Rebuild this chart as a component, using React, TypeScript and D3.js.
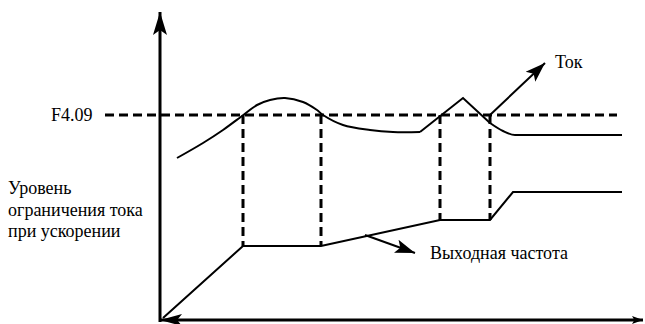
import { useEffect, useRef } from "react";
import * as d3 from "d3";

const W = 645;
const H = 324;

// current trace (t, level), split where the trace has sharp corners
const currentRise = [[17, 162], [43, 177], [63, 190], [82, 204], [97, 215], [110, 220], [125, 222], [143, 218], [157, 210], [163, 205], [183, 195], [210, 190], [233, 188], [260, 188]];
const currentSpike = [[260, 188], [303, 222], [330, 197]];
const currentSettle = [[330, 197], [343, 189], [355, 185], [370, 185], [462, 185]];
// output frequency trace
const freq = [[3, 2], [83, 74], [161, 74], [280, 100], [330, 100], [353, 128], [462, 128]];
// F4.09 limit
const limitLevel = 205;
const limitSpan = [-55, 457];
const markTimes = [83, 161, 280, 330];
// annotation arrows [from, to]
const currentPointer = [[330, 205], [385, 257]];
const freqPointer = [[205, 85], [255, 67]];
const leftLabel = ["Уровень", "ограничения тока", "при ускорении"];

const FONT = "'Liberation Serif', 'Times New Roman', serif";

const App = () => {
  const svgRef = useRef<SVGSVGElement>(null);

  useEffect(() => {
    const svg = d3.select(svgRef.current);
    svg.selectAll("*").remove();

    const x = d3.scaleLinear().domain([0, 483]).range([160, 643]);
    const y = d3.scaleLinear().domain([0, 308]).range([320, 12]);

    const defs = svg.append("defs");
    const marker = (id: string, len: number, wid: number) => {
      defs.append("marker")
        .attr("id", id)
        .attr("markerUnits", "userSpaceOnUse")
        .attr("markerWidth", len + 2)
        .attr("markerHeight", wid + 2)
        .attr("viewBox", `0 ${-wid / 2 - 1} ${len + 2} ${wid + 2}`)
        .attr("refX", len)
        .attr("refY", 0)
        .attr("orient", "auto-start-reverse")
        .append("path")
        .attr("d", `M0,${-wid / 2}L${len},0L0,${wid / 2}L${len * 0.22},0Z`)
        .attr("fill", "#000");
    };
    marker("bigHead", 23, 14);
    marker("smallHead", 11, 8);
    marker("noteHead", 20, 14);
    marker("originHead", 22, 12);

    const line = d3.line<number[]>().x(d => x(d[0])).y(d => y(d[1]));

    // axes
    svg.append("line")
      .attr("x1", x(0)).attr("y1", y(-2))
      .attr("x2", x(0)).attr("y2", y(308))
      .attr("stroke", "#000").attr("stroke-width", 3)
      .attr("marker-end", "url(#bigHead)");
    svg.append("line")
      .attr("x1", x(0)).attr("y1", y(0))
      .attr("x2", x(483)).attr("y2", y(0))
      .attr("stroke", "#000").attr("stroke-width", 3)
      .attr("marker-start", "url(#originHead)")
      .attr("marker-end", "url(#smallHead)");

    // F4.09 dashed level
    svg.append("line")
      .attr("x1", x(limitSpan[0])).attr("y1", y(limitLevel))
      .attr("x2", x(limitSpan[1])).attr("y2", y(limitLevel))
      .attr("stroke", "#000").attr("stroke-width", 3)
      .attr("stroke-dasharray", "9 5");

    // vertical dashed markers down to the frequency trace
    svg.append("g")
      .selectAll("line")
      .data(markTimes)
      .join("line")
      .attr("x1", d => x(d)).attr("y1", y(limitLevel))
      .attr("x2", d => x(d)).attr("y2", d => y(freq.find(p => p[0] === d)![1]))
      .attr("stroke", "#000").attr("stroke-width", 3)
      .attr("stroke-dasharray", "9 5");

    // current trace
    const g = svg.append("g").attr("fill", "none").attr("stroke", "#000").attr("stroke-width", 2);
    g.append("path").attr("d", line.curve(d3.curveCatmullRom.alpha(0.5))(currentRise));
    g.append("path").attr("d", line.curve(d3.curveLinear)(currentSpike));
    g.append("path").attr("d", line.curve(d3.curveMonotoneX)(currentSettle));

    // frequency trace
    g.append("path").attr("d", line.curve(d3.curveLinear)(freq));

    // annotation arrows
    [currentPointer, freqPointer].forEach(p => {
      svg.append("line")
        .attr("x1", x(p[0][0])).attr("y1", y(p[0][1]))
        .attr("x2", x(p[1][0])).attr("y2", y(p[1][1]))
        .attr("stroke", "#000").attr("stroke-width", 2)
        .attr("marker-end", "url(#noteHead)");
    });

    // labels
    const txt = svg.append("g").attr("font-family", FONT).attr("font-size", 18).attr("fill", "#000");
    txt.append("text").attr("x", 51).attr("y", 121).text("F4.09");
    txt.append("text").attr("x", 555).attr("y", 68).text("Ток");
    txt.append("text").attr("x", 430).attr("y", 259).text("Выходная частота");
    txt.append("g")
      .selectAll("text")
      .data(leftLabel)
      .join("text")
      .attr("x", 8)
      .attr("y", (d, i) => 194 + i * 21.5)
      .text(d => d);
  }, []);

  return (
    <svg
      ref={svgRef}
      width={W}
      height={H}
      style={{ position: "absolute", left: 0, top: 0, background: "#fff" }}
    />
  );
};

export default App;
